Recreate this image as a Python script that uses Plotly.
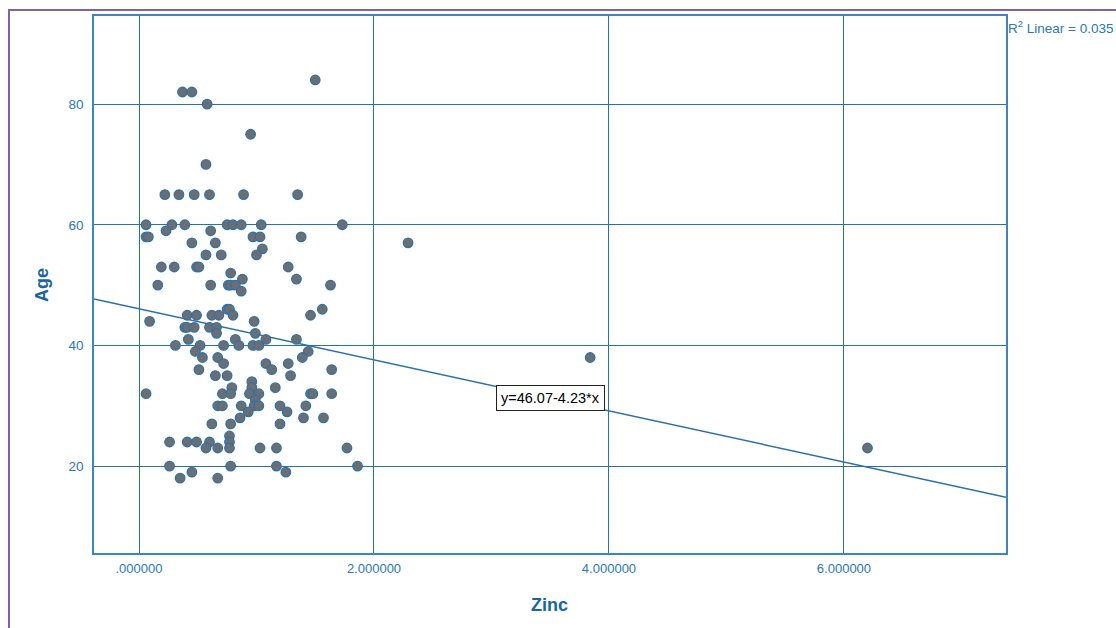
import plotly.graph_objects as go

# Zinc level vs. patient age, one (zinc, age) pair per row
points = [
    (0.37, 82), (0.45, 82), (0.58, 80), (0.95, 75), (0.57, 70), (1.50, 84),
    (0.22, 65), (0.34, 65), (0.47, 65), (0.60, 65), (0.89, 65), (1.35, 65),
    (0.06, 60), (0.28, 60), (0.39, 60), (0.75, 60), (0.80, 60), (0.87, 60), (1.04, 60), (1.73, 60),
    (0.23, 59), (0.61, 59),
    (0.06, 58), (0.08, 58), (0.97, 58), (1.03, 58), (1.38, 58),
    (0.45, 57), (0.65, 57), (2.29, 57),
    (1.05, 56),
    (0.57, 55), (0.70, 55), (1.00, 55),
    (0.19, 53), (0.30, 53), (0.49, 53), (0.51, 53), (1.27, 53),
    (0.78, 52),
    (0.88, 51), (1.34, 51),
    (0.16, 50), (0.61, 50), (0.76, 50), (0.78, 50), (0.82, 50), (1.63, 50),
    (0.87, 49),
    (0.75, 46), (0.77, 46), (1.56, 46),
    (0.41, 45), (0.49, 45), (0.62, 45), (0.68, 45), (0.80, 45), (1.46, 45),
    (0.09, 44), (0.98, 44),
    (0.39, 43), (0.41, 43), (0.47, 43), (0.60, 43), (0.66, 43),
    (0.66, 42), (0.99, 42),
    (0.42, 41), (0.82, 41), (1.08, 41), (1.34, 41),
    (0.31, 40), (0.52, 40), (0.72, 40), (0.85, 40), (0.97, 40), (1.02, 40),
    (0.48, 39), (1.44, 39),
    (0.54, 38), (0.67, 38), (1.39, 38), (3.84, 38),
    (0.72, 37), (1.08, 37), (1.27, 37),
    (0.51, 36), (1.13, 36), (1.64, 36),
    (0.65, 35), (0.75, 35), (1.29, 35),
    (0.96, 34),
    (0.79, 33), (0.96, 33), (1.16, 33),
    (0.06, 32), (0.71, 32), (0.78, 32), (0.94, 32), (1.02, 32), (1.46, 32), (1.48, 32), (1.64, 32),
    (0.99, 31),
    (0.67, 30), (0.71, 30), (0.87, 30), (0.98, 30), (1.02, 30), (1.20, 30), (1.42, 30),
    (0.93, 29), (1.26, 29),
    (0.86, 28), (1.40, 28), (1.57, 28),
    (0.62, 27), (0.78, 27), (1.20, 27),
    (0.77, 25),
    (0.26, 24), (0.41, 24), (0.49, 24), (0.60, 24), (0.77, 24),
    (0.57, 23), (0.67, 23), (0.77, 23), (1.03, 23), (1.17, 23), (1.77, 23), (6.20, 23),
    (0.26, 20), (0.78, 20), (1.17, 20), (1.86, 20),
    (0.45, 19), (1.25, 19),
    (0.35, 18), (0.67, 18),
]
zinc = [p[0] for p in points]
age = [p[1] for p in points]

# Linear fit reported on the chart
intercept = 46.07
slope = -4.23
r_squared = 0.035

x_ticks = [0, 2, 4, 6]
x_tick_text = [".000000", "2.000000", "4.000000", "6.000000"]
y_ticks = [20, 40, 60, 80]

x_range = [-0.383, 7.379]
y_range = [5.6, 94.6]

BLUE_LINE = "#2b70a8"
BLUE_FRAME = "#3a86bf"
TICK_COLOR = "#2a78b4"
TITLE_COLOR = "#1a64a2"
FONT = "Liberation Sans, Arial, sans-serif"

fig = go.Figure()

fig.add_trace(go.Scatter(
    x=x_range,
    y=[intercept + slope * v for v in x_range],
    mode="lines",
    line=dict(color=BLUE_LINE, width=1.5),
    hoverinfo="skip",
    showlegend=False,
))

fig.add_trace(go.Scatter(
    x=zinc, y=age,
    mode="markers",
    marker=dict(size=9.5, color="#6b6e72", line=dict(color="#2f72a8", width=1.3)),
    showlegend=False,
))

fig.update_layout(
    width=1116, height=628,
    margin=dict(l=94, r=110, t=16, b=75),
    paper_bgcolor="white",
    plot_bgcolor="white",
    font=dict(family=FONT, color=TICK_COLOR, size=13),
    xaxis=dict(
        range=x_range, tickvals=x_ticks, ticktext=x_tick_text,
        showgrid=True, gridcolor=BLUE_LINE, gridwidth=1,
        zeroline=False,
        showline=True, linecolor=BLUE_FRAME, linewidth=1.5, mirror=True,
        ticks="", ticklabelstandoff=3,
        tickfont=dict(size=13, color=TICK_COLOR),
    ),
    yaxis=dict(
        range=y_range, tickvals=y_ticks,
        showgrid=True, gridcolor=BLUE_LINE, gridwidth=1,
        zeroline=False,
        showline=True, linecolor=BLUE_FRAME, linewidth=1.5, mirror=True,
        ticks="", ticklabelstandoff=6,
        tickfont=dict(size=13.5, color=TICK_COLOR),
    ),
    shapes=[
        dict(type="rect", xref="paper", yref="paper",
             x0=(9 - 94) / 912, x1=(1140 - 94) / 912,
             y0=(553 - 660) / 537, y1=(553 - 10) / 537,
             line=dict(color="#8064a2", width=2), fillcolor="rgba(0,0,0,0)", layer="above"),
    ],
    annotations=[
        dict(text="<b>Age</b>", xref="paper", yref="paper",
             x=(42 - 94) / 912, y=(553 - 285) / 537, textangle=-90,
             xanchor="center", yanchor="middle",
             showarrow=False, font=dict(size=18, color=TITLE_COLOR, family=FONT)),
        dict(text="<b>Zinc</b>", xref="paper", yref="paper",
             x=(549 - 94) / 912, y=(553 - 605) / 537,
             xanchor="center", yanchor="middle",
             showarrow=False, font=dict(size=18, color=TITLE_COLOR, family=FONT)),
        dict(text=f"R<sup>2</sup> Linear = {r_squared:.3f}", xref="paper", yref="paper",
             x=1.0, y=(553 - 27) / 537, xanchor="left", yanchor="middle",
             showarrow=False, font=dict(size=13.5, color=TICK_COLOR, family=FONT)),
        dict(text=f"y={intercept:.2f}{slope:.2f}*x", x=3.498, y=31.3,
             xref="x", yref="y", showarrow=False,
             font=dict(size=14.5, color="black", family=FONT),
             bgcolor="white", bordercolor="#222222", borderwidth=1, borderpad=4),
    ],
)

fig.write_html("out.html")
